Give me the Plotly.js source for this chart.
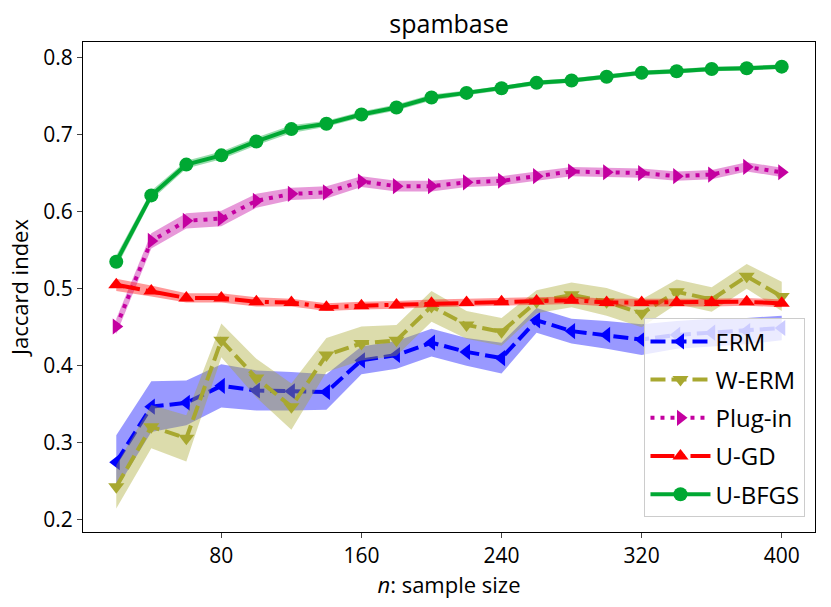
<!DOCTYPE html>
<html>
<head>
<meta charset="utf-8">
<script src="https://cdn.plot.ly/plotly-3.0.1.min.js"></script>
<style>
  html, body { margin: 0; padding: 0; background: #fff; }
  #chart { width: 831px; height: 607px; }
</style>
</head>
<body>
<div id="chart"></div>
<script>
'use strict';

// sample sizes
const sampleSize = [20, 40, 60, 80, 100, 120, 140, 160, 180, 200, 220, 240, 260, 280, 300, 320, 340, 360, 380, 400];

// mean Jaccard index per method
const ermMean = [0.275, 0.347, 0.352, 0.374, 0.368, 0.367, 0.366, 0.407, 0.414, 0.430, 0.418, 0.410, 0.459, 0.445, 0.440, 0.434, 0.440, 0.443, 0.445, 0.449];
const wermMean = [0.243, 0.321, 0.306, 0.433, 0.384, 0.347, 0.414, 0.429, 0.433, 0.477, 0.453, 0.444, 0.483, 0.492, 0.483, 0.468, 0.496, 0.486, 0.516, 0.490];
const pluginMean = [0.451, 0.562, 0.588, 0.591, 0.614, 0.623, 0.625, 0.639, 0.633, 0.633, 0.638, 0.640, 0.646, 0.652, 0.651, 0.650, 0.646, 0.648, 0.658, 0.651];
const ugdMean = [0.505, 0.497, 0.488, 0.488, 0.483, 0.482, 0.476, 0.478, 0.479, 0.481, 0.482, 0.483, 0.484, 0.485, 0.482, 0.482, 0.482, 0.482, 0.483, 0.481];
const ubfgsMean = [0.535, 0.621, 0.661, 0.673, 0.691, 0.707, 0.714, 0.726, 0.735, 0.748, 0.754, 0.760, 0.767, 0.770, 0.775, 0.780, 0.782, 0.785, 0.786, 0.788];

// half-width of the shaded bands
const ermErr = [0.035, 0.033, 0.029, 0.028, 0.026, 0.025, 0.023, 0.018, 0.018, 0.018, 0.018, 0.020, 0.016, 0.016, 0.018, 0.020, 0.018, 0.018, 0.017, 0.016];
const wermErr = [0.028, 0.028, 0.030, 0.022, 0.025, 0.030, 0.022, 0.022, 0.020, 0.020, 0.018, 0.018, 0.015, 0.016, 0.018, 0.018, 0.016, 0.016, 0.016, 0.019];
const pluginErr = [0.010, 0.010, 0.010, 0.010, 0.009, 0.008, 0.008, 0.007, 0.007, 0.007, 0.006, 0.006, 0.006, 0.006, 0.006, 0.006, 0.006, 0.006, 0.006, 0.006];
const ugdErr = [0.008, 0.007, 0.006, 0.006, 0.006, 0.005, 0.005, 0.005, 0.005, 0.005, 0.005, 0.005, 0.005, 0.005, 0.005, 0.005, 0.005, 0.005, 0.005, 0.005];
const ubfgsErr = [0.008, 0.006, 0.005, 0.005, 0.005, 0.005, 0.004, 0.004, 0.004, 0.004, 0.003, 0.003, 0.003, 0.003, 0.003, 0.003, 0.003, 0.003, 0.003, 0.003];

const xTicks = [80, 160, 240, 320, 400];
const yTicks = [0.2, 0.3, 0.4, 0.5, 0.6, 0.7, 0.8];

const FONT = '"Open Sans", "DejaVu Sans", sans-serif';

const series = [
    { name: 'ERM', mean: ermMean, err: ermErr, color: '#0000ff', band: 'rgba(0,0,255,0.4)', symbol: 'triangle-left', dash: '15px,6px' },
    { name: 'W-ERM', mean: wermMean, err: wermErr, color: '#a8a830', band: 'rgba(168,168,48,0.4)', symbol: 'triangle-down', dash: '15px,6px' },
    { name: 'Plug-in', mean: pluginMean, err: pluginErr, color: '#c400a0', band: 'rgba(196,0,160,0.4)', symbol: 'triangle-right', dash: '4px,6px' },
    { name: 'U-GD', mean: ugdMean, err: ugdErr, color: '#ff0000', band: 'rgba(255,0,0,0.4)', symbol: 'triangle-up', dash: '24px,6px,4px,6px' },
    { name: 'U-BFGS', mean: ubfgsMean, err: ubfgsErr, color: '#00a833', band: 'rgba(0,168,51,0.4)', symbol: 'circle', dash: 'solid' },
];

const traces = [];
for (const s of series) {
    const upper = s.mean.map((v, i) => v + s.err[i]);
    const lower = s.mean.map((v, i) => v - s.err[i]);
    traces.push({
        x: sampleSize.concat(sampleSize.slice().reverse()),
        y: upper.concat(lower.slice().reverse()),
        type: 'scatter', mode: 'lines', fill: 'toself',
        fillcolor: s.band, line: { width: 0, color: 'rgba(0,0,0,0)' },
        hoverinfo: 'skip', showlegend: false, legendgroup: s.name,
    });
    traces.push({
        x: sampleSize, y: s.mean, name: s.name, legendgroup: s.name,
        type: 'scatter', mode: 'lines+markers',
        line: { color: s.color, width: 4, dash: s.dash },
        marker: { color: s.color, symbol: s.symbol, size: 14, line: { width: 0 } },
    });
}

const layout = {
    width: 831, height: 607,
    paper_bgcolor: '#fff', plot_bgcolor: '#fff',
    margin: { l: 83, r: 16, t: 42, b: 75 },
    font: { family: FONT, color: '#000', size: 21 },
    title: {
        text: 'spambase', font: { size: 25, family: FONT },
        xref: 'paper', x: 0.5, xanchor: 'center',
        yref: 'paper', y: 1, yanchor: 'bottom', pad: { b: 9 },
    },
    showlegend: true,
    legend: {
        x: 0.987, xanchor: 'right', y: 0.03, yanchor: 'bottom',
        bgcolor: 'rgba(255,255,255,0.8)', bordercolor: '#cccccc', borderwidth: 1,
        font: { size: 24, family: FONT }, itemwidth: 60, tracegroupgap: 4,
    },
    xaxis: {
        range: [1, 419], tickvals: xTicks, ticks: 'outside', ticklen: 5, tickwidth: 1,
        showgrid: false, zeroline: false, showline: true, mirror: true, linecolor: '#000', linewidth: 1,
        tickfont: { size: 21 },
        title: { text: '<i>n</i>: sample size', font: { size: 22 }, standoff: 6 },
    },
    yaxis: {
        range: [0.1844, 0.82], tickvals: yTicks, ticktext: yTicks.map(v => v.toFixed(1)),
        ticks: 'outside', ticklen: 5, tickwidth: 1,
        showgrid: false, zeroline: false, showline: true, mirror: true, linecolor: '#000', linewidth: 1,
        tickfont: { size: 21 },
        title: { text: 'Jaccard index', font: { size: 22 }, standoff: 8 },
    },
};

Plotly.newPlot('chart', traces, layout, { displayModeBar: false, staticPlot: true });
</script>
</body>
</html>
